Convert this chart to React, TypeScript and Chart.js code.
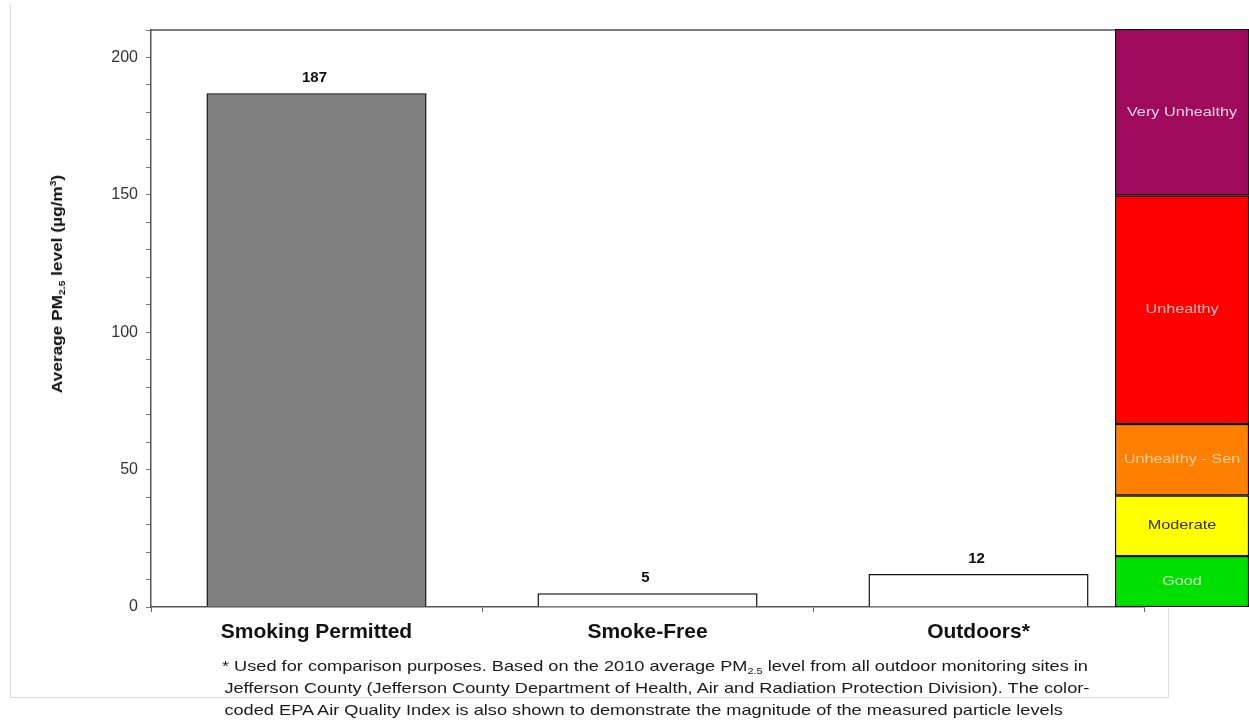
import React, { useEffect, useLayoutEffect, useRef } from 'react';
import { Chart, registerables } from 'chart.js';

Chart.register(...registerables);

// ---- data ----
const categories = ['Smoking Permitted', 'Smoke-Free', 'Outdoors*'];
const pmValues = [187, 5, 12];
const barColors = ['#808080', '#ffffff', '#ffffff'];
const yTickLabels = [0, 50, 100, 150, 200];
const yMax = 210;

const aqiNames = ['Good', 'Moderate', 'Unhealthy - Sen', 'Unhealthy', 'Very Unhealthy'];
const aqiLower = [0, 18.5, 40.5, 66.5, 149.5];
const aqiUpper = [18.5, 40.5, 66.5, 149.5, 210];
const aqiColors = ['#00e000', '#ffff00', '#ff7f00', '#ff0000', '#a00a5c'];
const aqiTextColors = ['#c8ffc0', '#333300', '#ffd0a0', '#ffb8b8', '#f4d0e8'];

const FONT = "'Liberation Sans', Arial, sans-serif";

const W = 1249;
const H = 726;
const PLOT_TOP = 30;
const PLOT_BOTTOM = 607;
const PLOT_LEFT = 151;
const PLOT_RIGHT = 1144;
const FOOT_WIDTH = 866;

const frameLine = {
  id: 'frameLine',
  afterDraw(chart: any) {
    const { ctx, chartArea } = chart;
    ctx.save();
    ctx.strokeStyle = '#555';
    ctx.lineWidth = 1.5;
    ctx.beginPath();
    ctx.moveTo(chartArea.left, chartArea.top);
    ctx.lineTo(chartArea.right, chartArea.top);
    ctx.stroke();
    ctx.restore();
  },
};

const valueLabels = {
  id: 'valueLabels',
  afterDatasetsDraw(chart: any) {
    const { ctx } = chart;
    const meta = chart.getDatasetMeta(0);
    ctx.save();
    ctx.fillStyle = '#111';
    ctx.font = `bold 15px ${FONT}`;
    ctx.textAlign = 'center';
    ctx.textBaseline = 'bottom';
    meta.data.forEach((bar: any, i: number) => {
      ctx.fillText(String(pmValues[i]), bar.x - 2, bar.y - 8);
    });
    ctx.restore();
  },
};

const bandLabels = {
  id: 'bandLabels',
  afterDatasetsDraw(chart: any) {
    const { ctx } = chart;
    ctx.save();
    ctx.font = `13px ${FONT}`;
    ctx.textAlign = 'center';
    ctx.textBaseline = 'middle';
    chart.data.datasets.forEach((ds: any, i: number) => {
      const bar: any = chart.getDatasetMeta(i).data[0];
      ctx.save();
      ctx.translate(bar.x, (bar.y + bar.base) / 2);
      ctx.scale(1.25, 1);
      ctx.fillStyle = aqiTextColors[i];
      ctx.fillText(aqiNames[i], 0, 0);
      ctx.restore();
    });
    ctx.restore();
  },
};

const subStyle: React.CSSProperties = { fontSize: 9, verticalAlign: 'baseline', position: 'relative', top: 3, lineHeight: 0 };
const supStyle: React.CSSProperties = { fontSize: 9, verticalAlign: 'baseline', position: 'relative', top: -6, lineHeight: 0 };

export default function App() {
  const mainRef = useRef<HTMLCanvasElement>(null);
  const bandRef = useRef<HTMLCanvasElement>(null);
  const footRef = useRef<HTMLDivElement>(null);
  const line1Ref = useRef<HTMLSpanElement>(null);

  useLayoutEffect(() => {
    const l1 = line1Ref.current;
    const f = footRef.current;
    if (l1 && f) {
      const w = l1.getBoundingClientRect().width;
      if (w > 0) f.style.transform = `scaleX(${FOOT_WIDTH / w})`;
    }
  }, []);

  useEffect(() => {
    const main = new Chart(mainRef.current as HTMLCanvasElement, {
      type: 'bar',
      data: {
        labels: categories,
        datasets: [
          {
            data: pmValues,
            backgroundColor: barColors,
            borderColor: '#111',
            borderWidth: 1.5,
            barPercentage: 0.665,
            categoryPercentage: 1,
          },
        ],
      },
      options: {
        animation: false,
        responsive: false,
        devicePixelRatio: 1,
        layout: { padding: { top: PLOT_TOP, right: W - PLOT_RIGHT, left: 0, bottom: 0 } },
        plugins: { legend: { display: false }, tooltip: { enabled: false } },
        scales: {
          x: {
            grid: { display: true, drawOnChartArea: false, offset: true, tickLength: 5, color: '#666' },
            border: { color: '#555', width: 1.5 },
            ticks: { font: { family: FONT, size: 21, weight: 'bold' }, color: '#111', padding: 8 },
            afterFit: (s: any) => {
              s.height = H - PLOT_BOTTOM;
            },
          },
          y: {
            min: 0,
            max: yMax,
            ticks: {
              stepSize: 10,
              autoSkip: false,
              callback: (v: any) => (yTickLabels.includes(v) ? String(v) : ''),
              font: { family: FONT, size: 16 },
              color: '#333',
              padding: 8,
            },
            grid: { drawOnChartArea: false, tickLength: 5, color: '#777' },
            border: { color: '#555', width: 1.5 },
            afterFit: (s: any) => {
              s.width = PLOT_LEFT;
            },
          },
        },
      } as any,
      plugins: [frameLine, valueLabels],
    });

    const band = new Chart(bandRef.current as HTMLCanvasElement, {
      type: 'bar',
      data: {
        labels: ['AQI'],
        datasets: aqiNames.map((name, i) => ({
          label: name,
          data: [[aqiLower[i], aqiUpper[i]]],
          backgroundColor: aqiColors[i],
          borderColor: '#111',
          borderWidth: 1.5,
          borderSkipped: false,
          grouped: false,
          barPercentage: 1,
          categoryPercentage: 1,
        })),
      },
      options: {
        animation: false,
        responsive: false,
        devicePixelRatio: 1,
        layout: { padding: { top: PLOT_TOP - 1, bottom: H - PLOT_BOTTOM, left: 1, right: 0 } },
        plugins: { legend: { display: false }, tooltip: { enabled: false } },
        scales: {
          x: { display: false },
          y: { display: false, min: 0, max: yMax },
        },
      } as any,
      plugins: [bandLabels],
    });

    return () => {
      main.destroy();
      band.destroy();
    };
  }, []);

  const frameColor = '#dcdcdc';

  return (
    <div style={{ position: 'absolute', left: 0, top: 0, width: W, height: H, background: '#fff', overflow: 'hidden' }}>
      <div style={{ position: 'absolute', left: 10, top: 4, width: 1, height: 694, background: frameColor }} />
      <div style={{ position: 'absolute', left: 10, top: 697, width: 1159, height: 1, background: frameColor }} />
      <div style={{ position: 'absolute', left: 1168, top: 608, width: 1, height: 90, background: frameColor }} />
      <canvas ref={mainRef} width={W} height={H} style={{ position: 'absolute', left: 0, top: 0 }} />
      <canvas ref={bandRef} width={135} height={H} style={{ position: 'absolute', left: 1114, top: 0 }} />
      <div
        style={{
          position: 'absolute',
          left: 57,
          top: 284,
          transform: 'translate(-50%, -50%) rotate(-90deg) scaleX(1.15)',
          whiteSpace: 'nowrap',
          fontFamily: FONT,
          fontWeight: 'bold',
          fontSize: 15,
          lineHeight: '18px',
          color: '#111',
        }}
      >
        Average PM<span style={subStyle}>2.5</span> level (µg/m<span style={supStyle}>3</span>)
      </div>
      <div
        ref={footRef}
        style={{
          position: 'absolute',
          left: 222,
          top: 655,
          transformOrigin: '0 0',
          fontFamily: FONT,
          fontSize: 15,
          lineHeight: '22px',
          color: '#1a1a1a',
          whiteSpace: 'nowrap',
        }}
      >
        <div>
          <span ref={line1Ref}>
            * Used for comparison purposes. Based on the 2010 average PM<span style={subStyle}>2.5</span> level from all outdoor monitoring sites in
          </span>
        </div>
        <div style={{ paddingLeft: 2 }}>
          Jefferson County (Jefferson County Department of Health, Air and Radiation Protection Division). The color-
        </div>
        <div style={{ paddingLeft: 2 }}>
          coded EPA Air Quality Index is also shown to demonstrate the magnitude of the measured particle levels
        </div>
      </div>
    </div>
  );
}
